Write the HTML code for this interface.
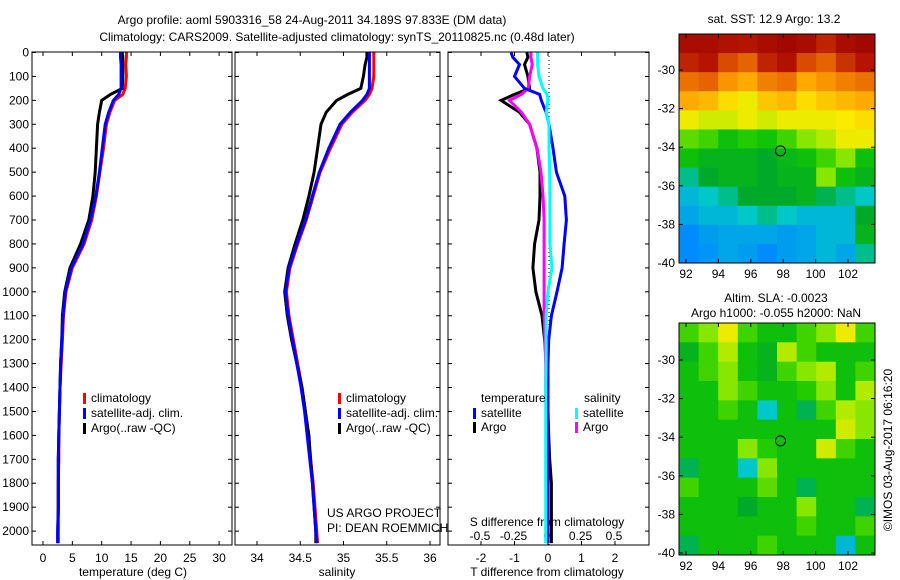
<!DOCTYPE html>
<html><head><meta charset="utf-8">
<style>
body{margin:0;background:#fff;}
svg{display:block;font-family:"Liberation Sans",sans-serif;}
text{font-size:12px;fill:#000;}
</style></head>
<body>
<svg id="chart" width="900" height="580" viewBox="0 0 900 580">
<text x="312" y="24" text-anchor="middle">Argo profile: aoml 5903316_58 24-Aug-2011 34.189S 97.833E (DM data)</text>
<text x="337" y="41" text-anchor="middle">Climatology: CARS2009. Satellite-adjusted climatology: synTS_20110825.nc (0.48d later)</text>
<text x="774" y="23" text-anchor="middle">sat. SST: 12.9 Argo: 13.2</text>
<text x="776" y="302" text-anchor="middle">Altim. SLA: -0.0023</text>
<text x="776" y="317" text-anchor="middle">Argo h1000: -0.055 h2000: NaN</text>
<text transform="translate(892,450) rotate(-90)" text-anchor="middle">©IMOS 03-Aug-2017 06:16:20</text>
<text x="327" y="517">US ARGO PROJECT</text>
<text x="327" y="532">PI: DEAN ROEMMICH</text>
</svg>
<script>
const depths=[0,20,50,100,150,175,200,250,300,400,500,600,700,800,900,1000,1100,1200,1300,1400,1500,1600,1700,1800,1900,2000,2050];
const tempClim=[14.2,14.2,14.1,14.2,14,13.6,12.2,11.4,10.8,10.3,9.7,9.1,8.3,7.0,5.0,3.9,3.5,3.3,3.1,2.9,2.8,2.7,2.7,2.6,2.6,2.6,2.6];
const tempSat=[13.2,13.2,13.3,13.3,13.3,12.9,12.0,11.2,10.6,10.1,9.6,9.0,8.1,6.8,4.8,3.8,3.4,3.2,3.0,2.9,2.8,2.7,2.6,2.6,2.6,2.5,2.5];
const tempArgo=[13.5,13.6,13.6,13.6,13.5,11.5,10.0,9.6,9.3,9.1,8.9,8.5,7.8,6.4,4.6,3.7,3.3,3.2,3.0,2.9,2.8,2.7,2.6,2.6,2.6,2.5,2.5];
const salClim=[35.35,35.35,35.35,35.35,35.33,35.3,35.25,35.1,34.98,34.85,34.73,34.65,34.57,34.47,34.38,34.34,34.37,34.42,34.47,34.52,34.56,34.59,34.62,34.65,34.67,34.69,34.7];
const salSat=[35.3,35.3,35.3,35.3,35.3,35.27,35.22,35.08,34.96,34.83,34.72,34.64,34.56,34.46,34.37,34.33,34.36,34.41,34.46,34.51,34.55,34.58,34.61,34.64,34.66,34.68,34.69];
const salArgo=[35.27,35.27,35.25,35.23,35.2,35.05,34.92,34.8,34.74,34.7,34.66,34.6,34.53,34.44,34.36,34.32,34.35,34.4,34.46,34.52,34.56,34.6,34.62,34.64,34.66,34.68,34.68];
const tDiffSat=[-1.1,-1.05,-0.85,-1.0,-0.7,-0.25,-0.2,-0.06,0.03,0.15,0.25,0.5,0.55,0.48,0.42,0.27,0.1,0.02,0,0,0,0,0,0,0,0,0];
const tDiffArgo=[-0.63,-0.6,-0.7,-0.6,-0.55,-1.0,-1.4,-0.85,-0.55,-0.33,-0.24,-0.24,-0.27,-0.4,-0.45,-0.36,-0.18,-0.1,-0.05,0,0,0.02,0.05,0.1,0.1,0.1,0.1];
const sDiffSat=[-0.07,-0.07,-0.07,-0.06,-0.03,0,0.007,-0.007,0.015,0.015,0.02,0.022,0.022,0.022,0.037,0.007,-0.007,-0.007,-0.007,-0.01,-0.01,-0.01,-0.01,-0.01,-0.01,-0.01,-0.01];
const sDiffArgo=[-0.12,-0.12,-0.11,-0.13,-0.14,-0.19,-0.28,-0.19,-0.13,-0.075,-0.045,-0.03,-0.022,-0.022,-0.022,-0.022,-0.022,-0.015,-0.01,-0.01,-0.005,0.005,-0.005,0,-0.005,-0.005,-0.005];
const depthTicks=[0,100,200,300,400,500,600,700,800,900,1000,1100,1200,1300,1400,1500,1600,1700,1800,1900,2000];
const tempTicks=[0,5,10,15,20,25,30];
const salTicks=["34","34.5","35","35.5","36"];
const tDiffTicks=[-2,-1,0,1,2];
const sDiffTicks=["-0.5","-0.25","0","0.25","0.5"];
const lonTicks=[92,94,96,98,100,102];
const latTicks=[-30,-32,-34,-36,-38,-40];
const sstGrid=[
[.95,.95,.93,.92,.95,.97,.95,.9,.95,.97],
[.9,.92,.85,.82,.9,.93,.85,.82,.88,.92],
[.8,.82,.75,.72,.78,.8,.72,.75,.78,.8],
[.72,.7,.65,.62,.68,.7,.65,.68,.7,.72],
[.62,.6,.6,.62,.6,.62,.62,.62,.63,.65],
[.52,.5,.45,.48,.46,.5,.55,.58,.62,.62],
[.45,.42,.42,.42,.4,.43,.45,.5,.55,.45],
[.35,.4,.42,.42,.4,.42,.42,.55,.45,.42],
[.3,.32,.35,.4,.4,.4,.42,.38,.35,.32],
[.28,.3,.3,.32,.35,.32,.3,.3,.3,.4],
[.25,.27,.28,.28,.28,.27,.28,.3,.3,.42],
[.25,.26,.28,.27,.25,.27,.28,.3,.28,.35]];
const slaGrid=[
[.5,.55,.62,.5,.45,.45,.5,.55,.62,.5],
[.42,.5,.58,.45,.42,.58,.5,.45,.45,.45],
[.45,.5,.55,.45,.42,.5,.55,.58,.45,.5],
[.45,.45,.55,.5,.45,.45,.48,.55,.45,.58],
[.45,.45,.5,.45,.32,.45,.38,.5,.58,.55],
[.45,.45,.45,.45,.45,.45,.45,.45,.6,.55],
[.45,.45,.45,.55,.48,.45,.45,.6,.5,.45],
[.38,.45,.45,.32,.55,.45,.45,.45,.45,.45],
[.5,.45,.45,.45,.52,.45,.38,.45,.45,.45],
[.45,.45,.45,.4,.45,.45,.55,.45,.45,.38],
[.45,.45,.45,.45,.45,.45,.5,.45,.45,.5],
[.38,.45,.45,.45,.5,.45,.45,.45,.3,.45]];
const argoLon=97.833, argoLat=-34.189;

const svg=document.getElementById('chart');
const NS='http://www.w3.org/2000/svg';
function mk(tag,attrs,parent){const e=document.createElementNS(NS,tag);for(const k in attrs)e.setAttribute(k,attrs[k]);(parent||svg).appendChild(e);return e;}
function txt(x,y,s,anchor){const t=mk('text',{x:x,y:y,'text-anchor':anchor||'middle'});t.textContent=s;return t;}
const yD=d=>52.5+d*0.2393;
const PY0=52,PY1=545;
const LBL=562, TTL=576;

function panel(x0,x1,name){
  const r=mk('rect',{x:x0,y:PY0,width:x1-x0,height:PY1-PY0,fill:'none',stroke:'#000','stroke-width':1});
  
  
  depthTicks.forEach(d=>{const y=yD(d);
    mk('line',{x1:x0,x2:x0+4,y1:y,y2:y,stroke:'#000'});
    mk('line',{x1:x1-4,x2:x1,y1:y,y2:y,stroke:'#000'});});
}
function series(vals,xf,color,name){
  const pts=vals.map((v,i)=>xf(v).toFixed(1)+','+Math.min(yD(depths[i]),PY1).toFixed(1)).join(' ');
  const p=mk('polyline',{points:pts,fill:'none',stroke:color,'stroke-width':3});
  
  
}
function legend(x,y,color,label,name){
  const r=mk('rect',{x:x,y:y-9,width:3,height:11,fill:color});
  const t=txt(x+8,y,label,'start');
  
  
}

// Panel 1: temperature
const xT=v=>43+v*5.87;
panel(32,232,'temperature-panel');
depthTicks.forEach(d=>{const t=txt(29,yD(d)+4,String(d),'end');
  
  });
tempTicks.forEach(v=>{const x=xT(v);mk('line',{x1:x,x2:x,y1:PY0,y2:PY0+4,stroke:'#000'});mk('line',{x1:x,x2:x,y1:PY1-4,y2:PY1,stroke:'#000'});
  const t=txt(x,LBL,String(v));
  
  });
const tx1=txt(133,TTL,'temperature (deg C)');


series(tempClim,xT,'#f00','temp-climatology-line');
series(tempArgo,xT,'#000','temp-argo-line');
series(tempSat,xT,'#00f','temp-satellite-line');
legend(83,402,'#f00','climatology','legend-climatology');
legend(83,417,'#00f','satellite-adj. clim.','legend-satellite');
legend(83,432,'#000','Argo(..raw -QC)','legend-argo');

// Panel 2: salinity
const xS=v=>257+(v-34)*86.5;
panel(235,440,'salinity-panel');
salTicks.forEach(s=>{const x=xS(parseFloat(s));mk('line',{x1:x,x2:x,y1:PY0,y2:PY0+4,stroke:'#000'});mk('line',{x1:x,x2:x,y1:PY1-4,y2:PY1,stroke:'#000'});
  const t=txt(x,LBL,s);
  
  });
const tx2=txt(337,TTL,'salinity');


series(salClim,xS,'#f00','sal-climatology-line');
series(salArgo,xS,'#000','sal-argo-line');
series(salSat,xS,'#00f','sal-satellite-line');
legend(338,402,'#f00','climatology','legend-climatology-2');
legend(338,417,'#00f','satellite-adj. clim.','legend-satellite-2');
legend(338,432,'#000','Argo(..raw -QC)','legend-argo-2');

// Panel 3: differences
const xTd=v=>548+v*33.5;
const xSd=v=>547+v*134;
panel(448,649,'difference-panel');
mk('line',{x1:549,x2:549,y1:PY0,y2:PY1,stroke:'#000','stroke-dasharray':'1,3'});
tDiffTicks.forEach(v=>{const x=xTd(v);mk('line',{x1:x,x2:x,y1:PY0,y2:PY0+4,stroke:'#000'});mk('line',{x1:x,x2:x,y1:PY1-4,y2:PY1,stroke:'#000'});
  const t=txt(x,LBL,String(v));
  
  });
sDiffTicks.forEach(s=>{const t=txt(xSd(parseFloat(s)),540,s);
  
  });
const tx3=txt(547,TTL,'T difference from climatology');


const tx4=txt(547,526,'S difference from climatology');


series(tDiffArgo,xTd,'#000','t-diff-argo-line');
series(sDiffArgo,xSd,'#f0f','s-diff-argo-line');
series(tDiffSat,xTd,'#00f','t-diff-satellite-line');
series(sDiffSat,xSd,'#0ff','s-diff-satellite-line');
const lt=txt(481,402,'temperature','start');


const ls=txt(584,402,'salinity','start');


legend(473,417,'#00f','satellite','legend-t-satellite');
legend(473,431,'#000','Argo','legend-t-argo');
legend(575,417,'#0ff','satellite','legend-s-satellite');
legend(575,431,'#f0f','Argo','legend-s-argo');

// Maps
const stops=[[0.15,[0,60,230]],[0.25,[0,140,255]],[0.32,[0,200,200]],[0.4,[0,170,40]],[0.47,[20,200,0]],[0.56,[150,235,0]],[0.63,[250,235,0]],[0.72,[255,170,0]],[0.82,[230,100,0]],[0.92,[180,20,0]],[1,[150,0,0]]];
function cmap(v){for(let i=1;i<stops.length;i++){if(v<=stops[i][0]){const a=stops[i-1],b=stops[i];const f=Math.max(0,(v-a[0])/(b[0]-a[0]));
  const c=a[1].map((q,k)=>Math.round(q+(b[1][k]-q)*f));return 'rgb('+c+')';}}return 'rgb(150,0,0)';}
function map(grid,x0,x1,y0,y1,latTop,latBot,name){
  const g=mk('g',{});
  
  
  const rows=grid.length,cols=grid[0].length,cw=(x1-x0)/cols,ch=(y1-y0)/rows;
  grid.forEach((row,r)=>row.forEach((v,c)=>{
    const cell=mk('rect',{x:x0+c*cw,y:y0+r*ch,width:cw+0.5,height:ch+0.5,fill:cmap(v)},g);
    
    
  }));
  mk('rect',{x:x0,y:y0,width:x1-x0,height:y1-y0,fill:'none',stroke:'#000'});
  const xl=v=>686+(v-92)*16.2;
  const yl=v=>latTop+(v+30)/-10*(latBot-latTop);
  lonTicks.forEach(v=>{const x=xl(v);mk('line',{x1:x,x2:x,y1:y1-4,y2:y1,stroke:'#000'});mk('line',{x1:x,x2:x,y1:y0,y2:y0+4,stroke:'#000'});
    const t=txt(x,y1+15,String(v));
    
    });
  latTicks.forEach(v=>{const y=yl(v);mk('line',{x1:x0,x2:x0+4,y1:y,y2:y,stroke:'#000'});mk('line',{x1:x1-4,x2:x1,y1:y,y2:y,stroke:'#000'});
    const t=txt(x0-4,y+4,String(v),'end');
    
    });
  const c=mk('ellipse',{cx:xl(argoLon),cy:yl(argoLat),rx:5,ry:5,fill:'none',stroke:'#000'});
  
  
}
map(sstGrid,679,875,34,263,70,263,'sst-map');
map(slaGrid,679,875,323,555,360,553,'sla-map');
</script>
</body></html>
